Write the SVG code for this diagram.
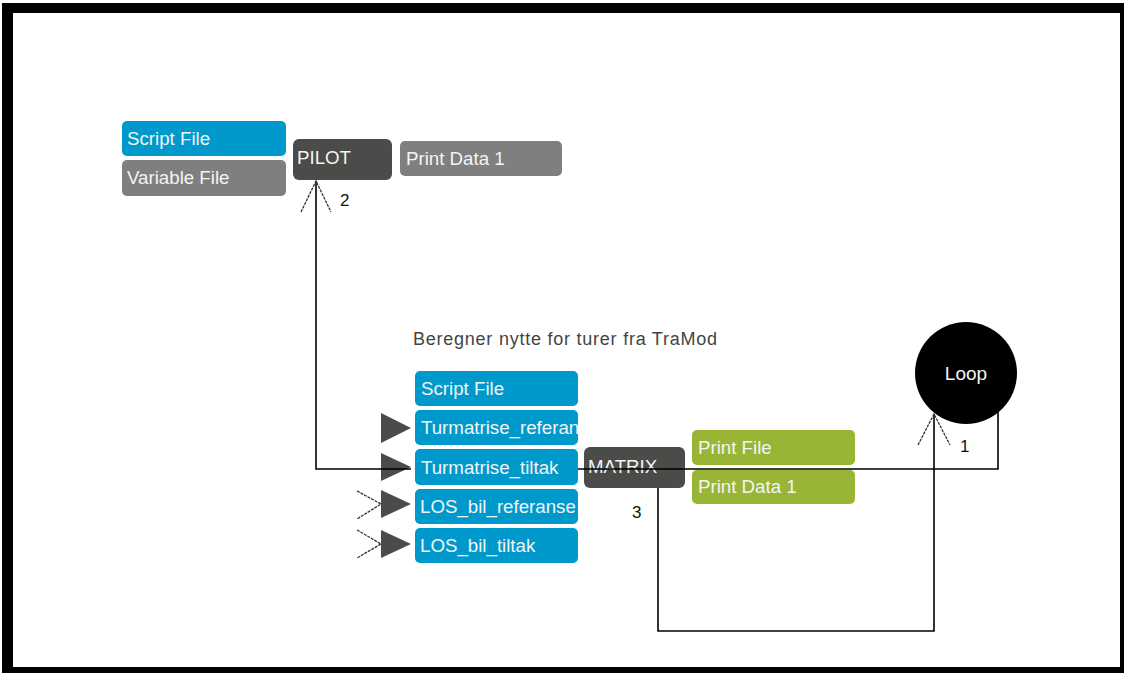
<svg xmlns="http://www.w3.org/2000/svg" width="1124" height="673" viewBox="0 0 1124 673">
<style>
.box{stroke:none}
.blue{fill:#0099cc}
.gray{fill:#7f7f7f}
.dark{fill:#4b4b49}
.green{fill:#99b536}
.bt{font-family:"Liberation Sans",Arial,sans-serif;font-size:18.7px;fill:#f4f4f4}
.num{font-family:"Liberation Sans",Arial,sans-serif;font-size:17px;fill:#111}
.cap{font-family:"Liberation Sans",Arial,sans-serif;font-size:18px;fill:#444}
.con{fill:none;stroke:#000;stroke-width:1.6}
.ah{fill:none;stroke:#333;stroke-width:1.3;stroke-dasharray:3 1}
.tri{fill:#4b4b49}
</style>
<defs>
<clipPath id="c1"><rect x="415" y="410" width="163" height="35"/></clipPath>
<clipPath id="c2"><rect x="415" y="489" width="163" height="35"/></clipPath>
</defs>
<rect x="2" y="3" width="1122" height="670" fill="#000"/>
<rect x="13" y="13" width="1107" height="654" fill="#fff"/>

<g id="pilot-inputs">
<rect class="box blue" x="122" y="121" width="164" height="35" rx="5"/>
<text class="bt" x="127" y="145">Script File</text>
<rect class="box gray" x="122" y="160" width="164" height="36" rx="5"/>
<text class="bt" x="127" y="184">Variable File</text>
</g>
<g id="pilot">
<rect class="box dark" x="293" y="139" width="99" height="41" rx="6"/>
<text class="bt" x="297" y="164">PILOT</text>
<text class="num" x="340" y="206">2</text>
</g>
<g id="pilot-print">
<rect class="box gray" x="400" y="141" width="162" height="35" rx="5"/>
<text class="bt" x="406" y="165">Print Data 1</text>
</g>

<g id="caption">
<text class="cap" x="413" y="345" textLength="304">Beregner nytte for turer fra TraMod</text>
</g>

<g id="matrix-inputs">
<rect class="box blue" x="415" y="371" width="163" height="35" rx="5"/>
<text class="bt" x="421" y="395">Script File</text>
<rect class="box blue" x="415" y="410" width="163" height="35" rx="5"/>
<text class="bt" x="421" y="434" clip-path="url(#c1)">Turmatrise_referanse</text>
<rect class="box blue" x="415" y="449" width="163" height="36" rx="5"/>
<text class="bt" x="421" y="474">Turmatrise_tiltak</text>
<rect class="box blue" x="415" y="489" width="163" height="35" rx="5"/>
<text class="bt" x="420" y="513" clip-path="url(#c2)">LOS_bil_referanse</text>
<rect class="box blue" x="415" y="528" width="163" height="35" rx="5"/>
<text class="bt" x="420" y="552">LOS_bil_tiltak</text>
<polygon class="tri" points="381,413 411,428 381,443"/>
<polygon class="tri" points="381,453 411,467 381,481"/>
<polygon class="tri" points="381,490 411,504 381,518"/>
<polygon class="tri" points="381,530 411,544 381,558"/>
</g>

<g id="matrix">
<rect class="box dark" x="584" y="447" width="101" height="41" rx="6"/>
<text class="bt" x="588" y="473">MATRIX</text>
<text class="num" x="632" y="518">3</text>
</g>

<g id="connectors">
<polyline class="con" points="411,469 316,469 316,181"/>
<polyline class="con" points="998,408 998,469 578,469"/>
<polyline class="con" points="658,488 658,631 934,631 934,414"/>
<polyline class="ah" points="301,212 316,181 331,212"/>
<polyline class="ah" points="918,445 934,414 950,445"/>
<polyline class="ah" points="357,491 381,504 357,519"/>
<polyline class="ah" points="357,530 381,544 357,558"/>
</g>

<g id="matrix-print">
<rect class="box green" x="692" y="430" width="163" height="35" rx="5"/>
<text class="bt" x="698" y="454">Print File</text>
<rect class="box green" x="692" y="470" width="163" height="34" rx="5"/>
<text class="bt" x="698" y="493">Print Data 1</text>
</g>

<g id="loop">
<circle cx="966" cy="373" r="51" fill="#000"/>
<text class="bt" x="966" y="380" text-anchor="middle" style="font-size:19px">Loop</text>
<text class="num" x="960" y="452">1</text>
</g>
</svg>
